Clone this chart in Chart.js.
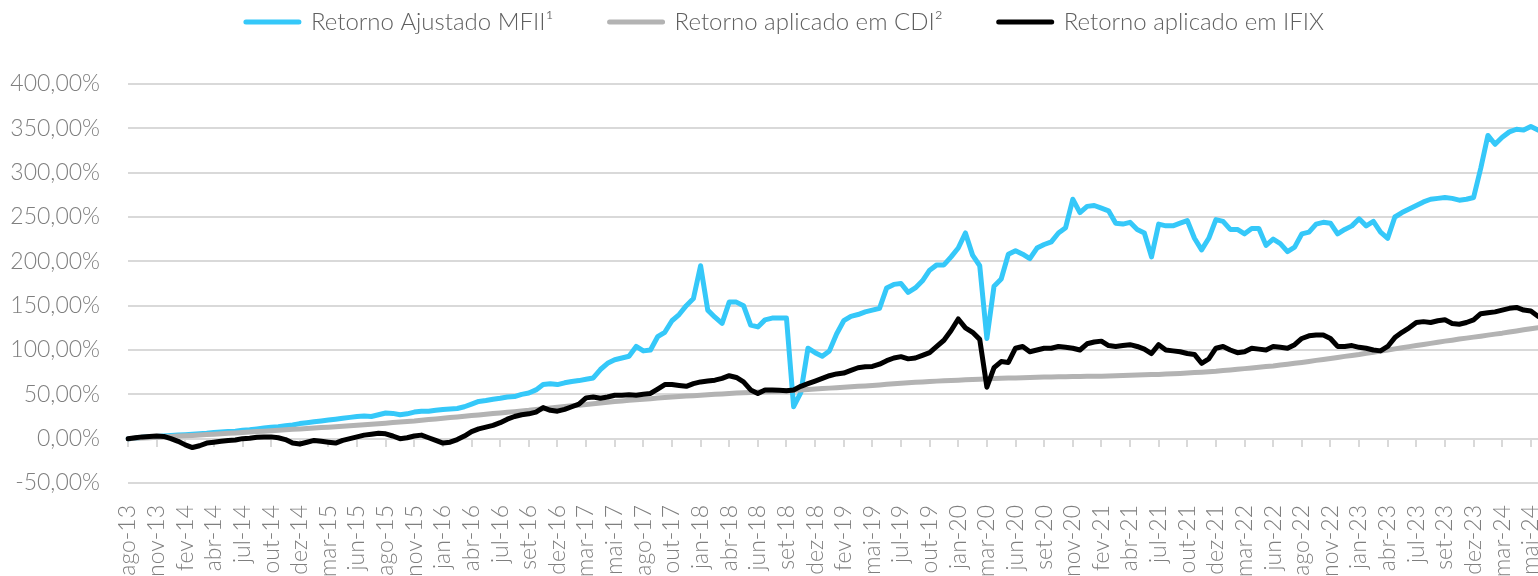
<!DOCTYPE html>
<html>
<head>
<meta charset="utf-8">
<script src="https://cdn.jsdelivr.net/npm/chart.js@4.4.1/dist/chart.umd.min.js"></script>
<style>
html,body{margin:0;padding:0;background:#ffffff;}
#wrap{width:1538px;height:576px;position:relative;}
</style>
</head>
<body>
<div id="wrap"><canvas id="c" width="1538" height="576"></canvas></div>
<script>
// Month tick labels (one every 4 points)
const tickLabels = ['ago-13','nov-13','fev-14','abr-14','jul-14','out-14','dez-14','mar-15','jun-15','ago-15','nov-15','jan-16','abr-16','jul-16','set-16','dez-16','mar-17','mai-17','ago-17','out-17','jan-18','abr-18','jun-18','set-18','dez-18','fev-19','mai-19','jul-19','out-19','jan-20','mar-20','jun-20','set-20','nov-20','fev-21','abr-21','jul-21','out-21','dez-21','mar-22','jun-22','ago-22','nov-22','jan-23','abr-23','jul-23','set-23','dez-23','mar-24','mai-24'];
const pointsPerLabel = 4;

const seriesNames = ['Retorno Ajustado MFII¹', 'Retorno aplicado em CDI²', 'Retorno aplicado em IFIX'];

// Retorno Ajustado MFII (%)
const mfii = [0,0.5,1.5,2, 2.5,3,3.5,4, 4.5,5,5.5,6, 7,7.5,8,8.5, 9.5,10,11,12, 13,13.5,14.5,15.5, 17,18,19,20, 21,22,23,24, 25,25.5,25,27, 29,28.5,27,28, 30,31,31,32, 33,33.5,34,36, 39,42,43,44.5, 45.5,47,47.5,50, 51.5,55,61,62, 61,63,64.5,65.5, 67,68.5,78,85, 89,91,93,104, 99,100,115,120, 133,140,150,158, 195,145,137,130, 154,154,150,128, 126,134,136,136, 136,36,52,102, 97,93,99,118, 133,138,140,143, 145,147,170,174, 175,165,170,178, 190,196,196,205, 215,232,207,195, 113,172,180,208, 212,208,203,215, 219,222,232,238, 270,255,262,263, 260,257,243,242, 244,236,232,205, 242,240,240,243, 246,226,213,226, 247,245,236,236, 231,237,237,218, 225,220,211,216, 231,233,242,244, 243,231,236,240, 248,240,245,233, 226,250,255,259, 263,267,270,271, 272,271,269,270, 272,305,342,332, 340,346,349,348, 352,348];

// Retorno aplicado em CDI (%)
const cdi = [0,0.4,0.8,1.1, 1.5,2.0,2.4,2.9, 3.3,3.7,4.1,4.6, 5,5.5,6,6.5, 7,7.5,8,8.5, 9,9.5,10,10.5, 11,11.5,12,12.5, 13,13.5,14,14.5, 15,15.6,16.2,16.9, 17.5,18.1,18.7,19.4, 20,20.8,21.5,22.3, 23,23.8,24.5,25.3, 26,26.8,27.5,28.3, 29,29.8,30.5,31.3, 32,32.9,33.8,34.6, 35.5,36.3,37,37.8, 38.5,39.4,40.3,41.1, 42,42.6,43.3,43.9, 44.5,45.1,45.8,46.4, 47,47.5,48,48.5, 49,49.5,50,50.5, 51,51.4,51.8,52.1, 52.5,52.9,53.3,53.6, 54,54.5,55,55.5, 56,56.5,57,57.5, 58,58.5,59,59.5, 60,60.6,61.3,61.9, 62.5,63,63.5,64, 64.5,64.9,65.3,65.6, 66,66.4,66.8,67.1, 67.5,67.8,68,68.3, 68.5,68.8,69,69.3, 69.5,69.6,69.8,69.9, 70,70.1,70.3,70.4, 70.5,70.8,71,71.3, 71.5,71.8,72,72.3, 72.5,72.9,73.3,73.6, 74,74.5,75,75.5, 76,76.8,77.5,78.3, 79,79.8,80.5,81.3, 82,83,84,85, 86,87.1,88.3,89.4, 90.5,91.6,92.8,93.9, 95,96.3,97.5,98.8, 100,101.3,102.5,103.8, 105,106.3,107.5,108.8, 110,111.1,112.3,113.4, 114.5,115.6,116.8,117.9, 119,120.3,121.5,122.8, 124,125];

// Retorno aplicado em IFIX (%)
const ifix = [0,1,2,2.5, 3,2.5,0,-3, -7,-10,-8,-5, -4,-3,-2,-1.5, 0,0.5,1.5,2, 2,1,-1,-5, -6,-4,-2,-3, -4,-5,-2,0, 2,4,5,6, 5.5,3,0,1, 3,4,1,-2, -5,-4,-1,3, 8,11,13,15, 18,22,25,27, 28,30,35,32, 31,33,36,39, 46,47,45.5,47, 49,49,49.5,49, 50,51,56,61, 61,60,59,62, 64,65,66,68, 71,69,64,55, 51,55,55,54.5, 54,55,59,62, 65,68,71,73, 74,77,80,81, 81.5,84,88,91, 92.5,90,91,94, 97,104,111,122, 135,125,120,112, 58,80,87,86, 102,104,98,100, 102,102,104,103, 102,100,107,109, 110,105,104,105, 106,104,101,96, 106,100,99,98, 96,95,85,90, 102,104,100,97, 98,102,101,100, 104,103,102,106, 113,116,117,117, 113,104,104,105, 103,102,100,99, 104,114,120,125, 131,132,131,133, 134,130,129,131, 134,141,142,143, 145,147,148,145, 144,138];

// Y axis range / step
const yMin = -50, yMax = 400, yStep = 50;

const pointLabels = mfii.map((_, i) => (i % pointsPerLabel === 0 && tickLabels[i / pointsPerLabel]) ? tickLabels[i / pointsPerLabel] : '');

const FONT = 'Lato, "Open Sans", sans-serif';

const legendShift = {
  id: 'legendShift',
  beforeLayout(chart) {
    const lg = chart.legend;
    if (lg && !lg._patchedFit) {
      const fit = lg.fit;
      lg.fit = function () { fit.call(this); this.height = 84; };
      lg._patchedFit = true;
    }
  },
  afterLayout(chart) {
    const lg = chart.legend;
    if (lg) {
      lg.top = -46;
      lg.left += 16;
      lg.right += 16;
    }
  }
};

new Chart(document.getElementById('c'), {
  type: 'line',
  data: {
    labels: pointLabels,
    datasets: [
      { label: seriesNames[0], data: mfii, borderColor: '#35c8f9', backgroundColor: '#35c8f9', order: 3 },
      { label: seriesNames[1], data: cdi, borderColor: '#b3b3b3', backgroundColor: '#b3b3b3', order: 2 },
      { label: seriesNames[2], data: ifix, borderColor: '#000000', backgroundColor: '#000000', order: 1 }
    ]
  },
  options: {
    responsive: false,
    animation: false,
    devicePixelRatio: 1,
    layout: { padding: { left: 0, right: 0, top: 0, bottom: 0 } },
    elements: {
      point: { radius: 0, hoverRadius: 0 },
      line: { borderWidth: 5, tension: 0, borderJoinStyle: 'round', borderCapStyle: 'round' }
    },
    plugins: {
      tooltip: { enabled: false },
      legend: {
        position: 'top',
        labels: {
          usePointStyle: true,
          pointStyle: 'line',
          pointStyleWidth: 53,
          padding: 56,
          color: '#5f5f5f',
          font: { family: FONT, size: 24, weight: 300 },
          sort: (a, b) => a.datasetIndex - b.datasetIndex,
          generateLabels: chart => Chart.defaults.plugins.legend.labels.generateLabels(chart).map(item => {
            const ds = chart.data.datasets[item.datasetIndex];
            item.lineWidth = 5;
            item.strokeStyle = ds.borderColor;
            item.lineCap = 'round';
            return item;
          })
        }
      }
    },
    scales: {
      x: {
        type: 'category',
        position: 'bottom',
        grid: { display: false, drawTicks: false },
        border: { display: false },
        ticks: {
          autoSkip: false,
          minRotation: 90,
          maxRotation: 90,
          padding: 22,
          color: '#7f7f7f',
          font: { family: FONT, size: 23, weight: 300 }
        },
        afterFit: s => { s.height = 93; s.paddingLeft = 0; s.paddingRight = 0; }
      },
      x2: {
        type: 'category',
        position: { y: 0 },
        grid: {
          display: true,
          drawOnChartArea: false,
          drawTicks: true,
          tickLength: 8,
          lineWidth: 2,
          color: ctx => (ctx.index % pointsPerLabel === 0 ? '#d9d9d9' : 'rgba(0,0,0,0)')
        },
        border: { display: false },
        ticks: { display: false }
      },
      y: {
        min: yMin,
        max: yMax,
        grid: { color: '#d9d9d9', lineWidth: 2, drawTicks: false },
        border: { display: false },
        ticks: {
          stepSize: yStep,
          padding: 28,
          color: '#7f7f7f',
          font: { family: FONT, size: 23, weight: 300 },
          callback: v => v.toFixed(2).replace('.', ',') + '%'
        },
        afterFit: s => { s.width = 128; s.paddingTop = 0; s.paddingBottom = 0; }
      }
    }
  },
  plugins: [legendShift]
});
</script>
</body>
</html>
